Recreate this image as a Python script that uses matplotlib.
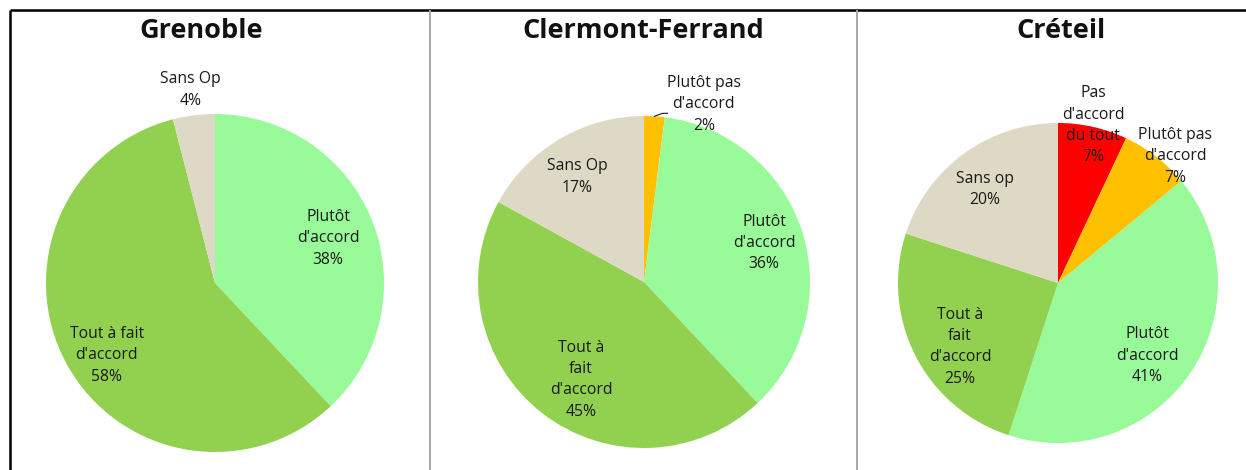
import numpy as np
import matplotlib
matplotlib.use("Agg")
import matplotlib.pyplot as plt

plt.rcParams['font.family'] = ['Open Sans', 'DejaVu Sans']

# data (clockwise from 12 o'clock)
titles = ["Grenoble", "Clermont-Ferrand", "Créteil"]

grenoble_labels = ["Plutôt\nd'accord", "Tout à fait\nd'accord", "Sans Op"]
grenoble_values = [38, 58, 4]

clermont_labels = ["Plutôt pas\nd'accord", "Plutôt\nd'accord", "Tout à\nfait\nd'accord", "Sans Op"]
clermont_values = [2, 36, 45, 17]

creteil_labels = ["Pas\nd'accord\ndu tout", "Plutôt pas\nd'accord", "Plutôt\nd'accord",
                  "Tout à\nfait\nd'accord", "Sans op"]
creteil_values = [7, 7, 41, 25, 20]

colours = {
    "Pas d'accord du tout": "#FF0000",
    "Plutôt pas d'accord": "#FFC000",
    "Plutôt d'accord": "#99FA99",
    "Tout à fait d'accord": "#92D050",
    "Sans op": "#DDD9C4",
}

# layout in pixels of a 1246x470 image
W, H = 1246, 470
pies = [
    dict(labels=grenoble_labels, values=grenoble_values, cx=215, cy=283, r=169,
         title_x=201, label_r=[0.72, 0.77, 1.15], label_shift=[0, -5, 0]),
    dict(labels=clermont_labels, values=clermont_values, cx=644, cy=282, r=166,
         title_x=643, label_r=[1.13, 0.76, 0.70, 0.75], label_shift=[15, 0, -5, -2]),
    dict(labels=creteil_labels, values=creteil_values, cx=1058, cy=283, r=160,
         title_x=1061, label_r=[1.01, 1.08, 0.72, 0.73, 0.74], label_shift=[0, 5, 5, -6, -2]),
]


def colour_of(label):
    key = " ".join(label.split()).lower()
    for k, c in colours.items():
        if k.lower() == key:
            return c
    return "#cccccc"


fig = plt.figure(figsize=(W / 100, H / 100), dpi=100)
ax = fig.add_axes([0, 0, 1, 1])

for title, p in zip(titles, pies):
    cx, cy, r = p["cx"], H - p["cy"], p["r"]
    wedges, _ = ax.pie(p["values"], colors=[colour_of(l) for l in p["labels"]],
                       startangle=90, counterclock=False, center=(cx, cy), radius=r,
                       wedgeprops=dict(linewidth=0), frame=True)
    total = sum(p["values"])
    for w, lab, val, rf, sh in zip(wedges, p["labels"], p["values"], p["label_r"], p["label_shift"]):
        mid = np.deg2rad((w.theta1 + w.theta2) / 2 - sh)
        tx = cx + rf * r * np.cos(mid)
        ty = cy + rf * r * np.sin(mid)
        ax.text(tx, ty, f"{lab}\n{round(100 * val / total)}%", ha="center", va="center",
                fontsize=11.3, color="#1a1a1a", linespacing=1.45)
        if rf > 1 and val <= 3:
            edge = (w.theta1 + w.theta2) / 2
            ex = cx + r * np.cos(np.deg2rad(edge))
            ey = cy + r * np.sin(np.deg2rad(edge))
            ax.plot([ex, ex + 8, ex + 13], [ey, ey + 3, ey + 3], color="#1a1a1a", lw=0.8)
    ax.text(p["title_x"], H - 31, title, ha="center", va="center",
            fontsize=19.5, fontweight="bold", color="#111111")

ax.set_xlim(0, W)
ax.set_ylim(0, H)
ax.set_aspect("auto")
ax.axis("off")

# frame and separators
ax.plot([10, W], [H - 10, H - 10], color="black", lw=1.8, solid_capstyle="butt")
ax.plot([10, 10], [0, H - 10], color="black", lw=1.8, solid_capstyle="butt")
for x in [430, 857]:
    ax.plot([x, x], [0, H - 11], color="#a6a6a6", lw=1.4)

fig.savefig("out.png", dpi=100)
